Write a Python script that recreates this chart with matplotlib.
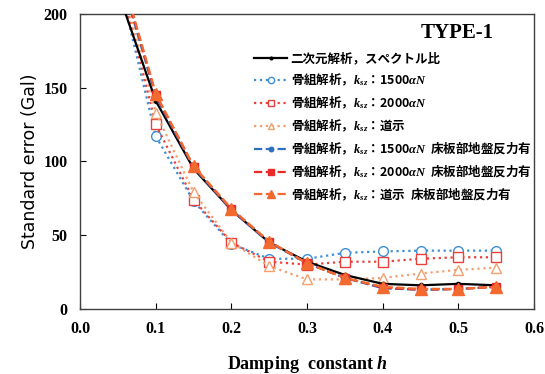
import numpy as np
import matplotlib.pyplot as plt

plt.rcParams['font.family'] = ['Liberation Serif', 'Noto Sans CJK JP', 'DejaVu Sans']
plt.rcParams['mathtext.fontset'] = 'custom'
plt.rcParams['mathtext.it'] = 'Liberation Serif:italic:bold'
plt.rcParams['mathtext.rm'] = 'Liberation Serif:bold'

h = [0.05, 0.10, 0.15, 0.20, 0.25, 0.30, 0.35, 0.40, 0.45, 0.50, 0.55]

spec_2d = [215, 141, 95, 67, 45, 32, 23, 17, 16, 17, 16]
frame_1500 = [225, 117, 73, 44, 34, 34, 38, 39, 39.5, 39.5, 39.5]
frame_2000 = [228, 125, 74, 45, 32, 30, 32, 32, 34, 35, 35]
frame_road = [230, 133, 79, 45, 29, 20, 20, 21, 24, 26.5, 28]
slab_1500 = [232, 144, 96, 67, 45, 31, 21, 14, 13, 13.5, 15]
slab_2000 = [234, 145, 96.5, 67.5, 45.5, 31, 21, 14.5, 13, 13.5, 15]
slab_road = [236, 146, 96.6, 68, 45.6, 31, 21, 15, 13.6, 13.6, 15]

labels = [
    '二次元解析，スペクトル比',
    '骨組解析，$k_{sz}$：1500$\\alpha N$',
    '骨組解析，$k_{sz}$：2000$\\alpha N$',
    '骨組解析，$k_{sz}$：道示',
    '骨組解析，$k_{sz}$：1500$\\alpha N$  床板部地盤反力有',
    '骨組解析，$k_{sz}$：2000$\\alpha N$  床板部地盤反力有',
    '骨組解析，$k_{sz}$：道示  床板部地盤反力有',
]

fig = plt.figure(figsize=(5.45, 3.74), dpi=100)
ax = fig.add_axes([0.147, 0.174, 0.833, 0.789])

ax.plot(h, spec_2d, color='black', lw=1.6, marker='o', ms=3, label=labels[0], zorder=3)
ax.plot(h, frame_1500, color='#3d8fd6', lw=1.6, ls=':', marker='o', ms=7, mfc='white',
        mec='#3d8fd6', mew=1, label=labels[1])
ax.plot(h, frame_2000, color='#e8403c', lw=1.6, ls=':', marker='s', ms=7, mfc='white',
        mec='#e8403c', mew=1, label=labels[2])
ax.plot(h, frame_road, color='#f2a070', lw=1.6, ls=':', marker='^', ms=7, mfc='white',
        mec='#f2a070', mew=1, label=labels[3])
ax.plot(h, slab_1500, color='#2e6fc0', lw=1.6, ls='--', marker='o', ms=5, label=labels[4], zorder=4)
ax.plot(h, slab_2000, color='#e82a2a', lw=1.6, ls='--', marker='s', ms=6, label=labels[5], zorder=4)
ax.plot(h, slab_road, color='#f26a30', lw=1.6, ls='--', marker='^', ms=8, label=labels[6], zorder=5)

ax.set_xlim(0, 0.6)
ax.set_ylim(0, 200)
ax.set_xticks(np.arange(0, 0.61, 0.1))
ax.set_yticks([0, 50, 100, 150, 200])
ax.xaxis.set_major_formatter(plt.FormatStrFormatter('%.1f'))
ax.tick_params(direction='in', length=4, labelsize=11.5, width=0.8)
for t in ax.get_xticklabels() + ax.get_yticklabels():
    t.set_fontweight('bold')
ax.tick_params(axis='x', pad=9)
ax.tick_params(axis='y', pad=9)
for s in ax.spines.values():
    s.set_color('#404040')
    s.set_linewidth(1)

ax.set_xlabel('Damping  constant $h$', fontsize=13, fontweight='bold', labelpad=12)
ax.set_ylabel('Standard error (Gal)', fontsize=12.5, family='DejaVu Sans', labelpad=3)

ax.text(0.83, 0.935, 'TYPE-1', transform=ax.transAxes, fontsize=15, fontweight='bold',
        ha='center', va='center')

leg = ax.legend(loc='upper left', bbox_to_anchor=(0.37, 0.89), frameon=False,
                prop={'family': ['Noto Sans CJK JP', 'DejaVu Sans'], 'size': 9, 'weight': 'bold'},
                handlelength=2.6, handletextpad=0.3, labelspacing=0.5, borderpad=0,
                markerscale=0.65)

fig.savefig('out.png', dpi=100)
